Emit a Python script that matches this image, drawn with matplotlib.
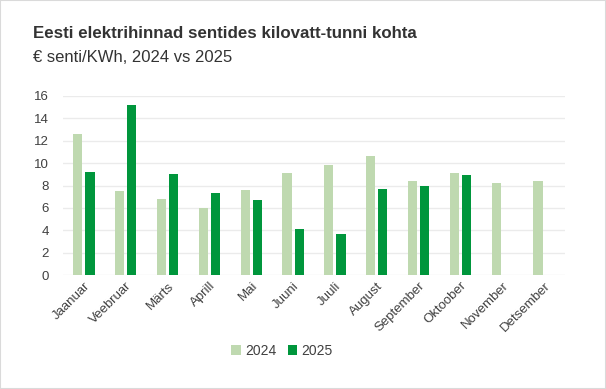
import numpy as np
import matplotlib.pyplot as plt

plt.rcParams['font.family'] = ['Liberation Sans', 'DejaVu Sans']

months = ['Jaanuar', 'Veebruar', 'Märts', 'Aprill', 'Mai', 'Juuni', 'Juuli',
          'August', 'September', 'Oktoober', 'November', 'Detsember']
price_2024 = [12.6, 7.5, 6.8, 6.0, 7.6, 9.1, 9.8, 10.6, 8.4, 9.1, 8.2, 8.4]
price_2025 = [9.2, 15.2, 9.0, 7.3, 6.7, 4.1, 3.7, 7.7, 8.0, 8.9, np.nan, np.nan]

c24 = '#BFD9B0'
c25 = '#00963C'
txt = '#404040'

fig = plt.figure(figsize=(6.06, 3.89), dpi=100)
ax = fig.add_axes([63 / 606, 1 - 275 / 389, 502 / 606, 179 / 389])

x = np.arange(len(months))
w = 0.22
ax.bar(x - w / 2 - 0.035, price_2024, w, color=c24, label='2024', zorder=3)
ax.bar(x + w / 2 + 0.035, price_2025, w, color=c25, label='2025', zorder=3)

ax.set_xlim(-0.5, 11.5)
ax.set_ylim(0, 16)
ax.set_yticks(range(0, 17, 2))
ax.grid(axis='y', color='#EBEBEB', linewidth=1, zorder=0)
for s in ax.spines.values():
    s.set_visible(False)
ax.tick_params(length=0, colors=txt, labelsize=9.5)
ax.tick_params(axis='y', pad=10)
ax.set_xticks(x)
ax.set_xticklabels(months, rotation=45, ha='right', rotation_mode='anchor')

fig.text(33 / 606, 1 - 33 / 389, 'Eesti elektrihinnad sentides kilovatt-tunni kohta',
         fontsize=12.2, fontweight='bold', color='#333333', va='center')
fig.text(33 / 606, 1 - 58 / 389, '€ senti/KWh, 2024 vs 2025',
         fontsize=12, color='#333333', va='center')

fig.legend(loc='center', bbox_to_anchor=(282 / 606, 1 - 351 / 389), ncol=2,
           frameon=False, fontsize=10, handlelength=0.7, handleheight=0.7,
           columnspacing=0.8, handletextpad=0.3, labelcolor=txt)

fig.patches.append(plt.Rectangle((0, 0), 1, 1, transform=fig.transFigure,
                                 fill=False, edgecolor='#DADADA', linewidth=1.5))

fig.savefig('out.png', dpi=100)
